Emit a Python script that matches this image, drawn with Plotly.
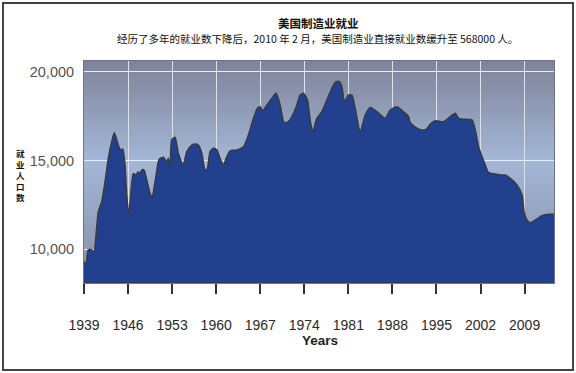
import base64
import plotly.graph_objects as go

# ---- data (thousands of jobs) ----
years = [1939.0, 1939.32, 1939.68, 1940.22, 1940.59, 1940.91, 1941.27, 1941.81, 1942.34, 1942.86,
         1943.40, 1943.82, 1944.45, 1944.83, 1945.15, 1945.52, 1945.79, 1946.11, 1946.42, 1946.84,
         1947.27, 1947.63, 1947.90, 1948.17, 1948.54, 1948.97, 1949.49, 1949.81, 1950.29, 1950.81,
         1951.08, 1951.61, 1952.15, 1952.40, 1952.67, 1952.94, 1953.47, 1953.99, 1954.74, 1955.33,
         1956.12, 1956.65, 1957.17, 1957.71, 1958.24, 1958.60, 1959.03, 1959.56, 1960.10, 1960.62,
         1961.15, 1961.69, 1962.21, 1963.28, 1964.33, 1965.12, 1965.92, 1966.55, 1966.98, 1967.41,
         1968.05, 1968.84, 1969.52, 1970.16, 1970.80, 1971.48, 1972.02, 1972.82, 1973.34, 1973.87,
         1974.50, 1974.93, 1975.36, 1975.99, 1976.79, 1977.59, 1978.38, 1979.06, 1979.59, 1979.97,
         1980.38, 1981.02, 1981.56, 1982.08, 1982.88, 1983.67, 1984.47, 1985.53, 1986.85, 1987.65,
         1988.71, 1989.76, 1990.56, 1990.83, 1991.89, 1992.69, 1993.37, 1994.01, 1994.80, 1996.12,
         1997.19, 1997.98, 1998.51, 1999.30, 2000.64, 2001.16, 2001.69, 2002.23, 2002.75, 2003.28,
         2004.34, 2005.41, 2005.93, 2006.73, 2007.79, 2008.59, 2008.95, 2009.38, 2009.90, 2010.70,
         2011.76, 2012.82, 2013.67]
jobs = [9280, 9150, 9950, 9960, 9830, 10790, 12100, 12670, 13800, 15120,
        16060, 16570, 15870, 15590, 15650, 14750, 13050, 11920, 13050, 14270,
        14180, 14370, 14220, 14460, 14460, 13900, 13150, 12900, 13800, 14930,
        15120, 15180, 14930, 15120, 14650, 16160, 16310, 15410, 14750, 15500,
        15870, 15930, 15870, 15410, 14460, 14560, 15500, 15690, 15600, 15120,
        14750, 15220, 15550, 15600, 15780, 16440, 17380, 17950, 18040, 17810,
        18140, 18510, 18800, 18140, 17140, 17190, 17480, 18140, 18700, 18800,
        18420, 17290, 16630, 17380, 17760, 18420, 19080, 19450, 19450, 19170,
        18320, 18700, 18700, 17950, 16630, 17570, 18000, 17760, 17380, 17850,
        18040, 17760, 17480, 17140, 16820, 16720, 16760, 17060, 17250, 17190,
        17480, 17670, 17380, 17330, 17290, 16720, 15780, 15220, 14750, 14310,
        14240, 14180, 14180, 13990, 13620, 13050, 12020, 11640, 11490, 11640,
        11880, 11960, 11960]

x_ticks = [1939, 1946, 1953, 1960, 1967, 1974, 1981, 1988, 1995, 2002, 2009]
y_ticks = [10000, 15000, 20000]
y_tick_labels = ["10,000", "15,000", "20,000"]

title = "<b>美国制造业就业</b>"
subtitle = "经历了多年的就业数下降后，2010 年 2 月，美国制造业直接就业数缓升至 568000 人。"
y_title = "<br>".join(list("就业人口数"))
x_title = "Years"

# ---- background gradient as an inline SVG ----
svg = ('<svg xmlns="http://www.w3.org/2000/svg" width="10" height="100" preserveAspectRatio="none">'
       '<defs><linearGradient id="g" x1="0" y1="0" x2="0" y2="1">'
       '<stop offset="0" stop-color="#7f8399"/>'
       '<stop offset="0.45" stop-color="#a3b7d6"/>'
       '<stop offset="1" stop-color="#868da4"/>'
       '</linearGradient></defs>'
       '<rect width="10" height="100" fill="url(#g)"/></svg>')
svg_uri = "data:image/svg+xml;base64," + base64.b64encode(svg.encode()).decode()

fig = go.Figure()
fig.add_trace(go.Scatter(
    x=years, y=jobs, mode="lines", fill="tozeroy",
    line=dict(color="#3a3a40", width=1.5, shape="spline", smoothing=0.6),
    fillcolor="#22408e", hoverinfo="skip", showlegend=False))

fig.update_layout(
    width=576, height=373,
    margin=dict(l=84, r=22, t=61, b=90),
    paper_bgcolor="white",
    plot_bgcolor="rgba(0,0,0,0)",
    images=[dict(source=svg_uri, xref="paper", yref="paper", x=0, y=1,
                 sizex=1, sizey=1, xanchor="left", yanchor="top",
                 sizing="stretch", layer="below")],
    font=dict(family="Liberation Sans, Arial, sans-serif", color="#333"),
    xaxis=dict(range=[1939, 2013.67], tickmode="array", tickvals=x_ticks,
               ticktext=[str(v) for v in x_ticks],
               ticks="outside", ticklen=10, tickwidth=1.5, tickcolor="#333",
               ticklabelstandoff=19,
               tickfont=dict(size=14, color="#2a2a2a"),
               showgrid=True, gridcolor="#dde1ea", gridwidth=1,
               showline=True, linecolor="#707480", linewidth=1, mirror=True,
               zeroline=False, fixedrange=True),
    yaxis=dict(range=[8080, 20620], tickmode="array", tickvals=y_ticks,
               ticktext=y_tick_labels, ticks="", ticklabelstandoff=6,
               tickfont=dict(size=14.5, color="#555"),
               showgrid=True, gridcolor="#e8ecf3", gridwidth=1.2,
               showline=True, linecolor="#707480", linewidth=1, mirror=True,
               zeroline=False, fixedrange=True),
    shapes=[dict(type="rect", xref="paper", yref="paper",
                 x0=-81 / 470, x1=1 + 19 / 470, y0=-87 / 222, y1=1 + 58 / 222,
                 line=dict(color="#444", width=2), fillcolor="rgba(0,0,0,0)",
                 layer="above")],
    annotations=[
        dict(text=title, xref="paper", yref="paper", x=(318 - 84) / 470, y=1 + (61 - 23) / 222,
             showarrow=False, xanchor="center", yanchor="middle",
             font=dict(family="Noto Sans CJK SC", size=11.5, color="#111")),
        dict(text=subtitle, xref="paper", yref="paper", x=(317 - 84) / 470, y=1 + (61 - 39) / 222,
             showarrow=False, xanchor="center", yanchor="middle",
             font=dict(family="Noto Sans CJK SC", size=10.5, color="#111")),
        dict(text="<b>" + y_title + "</b>", xref="paper", yref="paper", x=(20 - 84) / 470,
             y=(283 - 175) / 222, showarrow=False, xanchor="center", yanchor="middle",
             font=dict(family="Noto Sans CJK SC", size=8.5, color="#111")),
        dict(text="<b>" + x_title + "</b>", xref="paper", yref="paper", x=(320 - 84) / 470,
             y=-(340 - 283) / 222, showarrow=False, xanchor="center", yanchor="middle",
             font=dict(family="Liberation Sans Narrow, Liberation Sans, Arial", size=13.5, color="#222")),
    ],
)

fig.write_html("out.html", config={"displayModeBar": False},
               post_script="document.body.style.margin='0';document.body.style.overflow='hidden';")
